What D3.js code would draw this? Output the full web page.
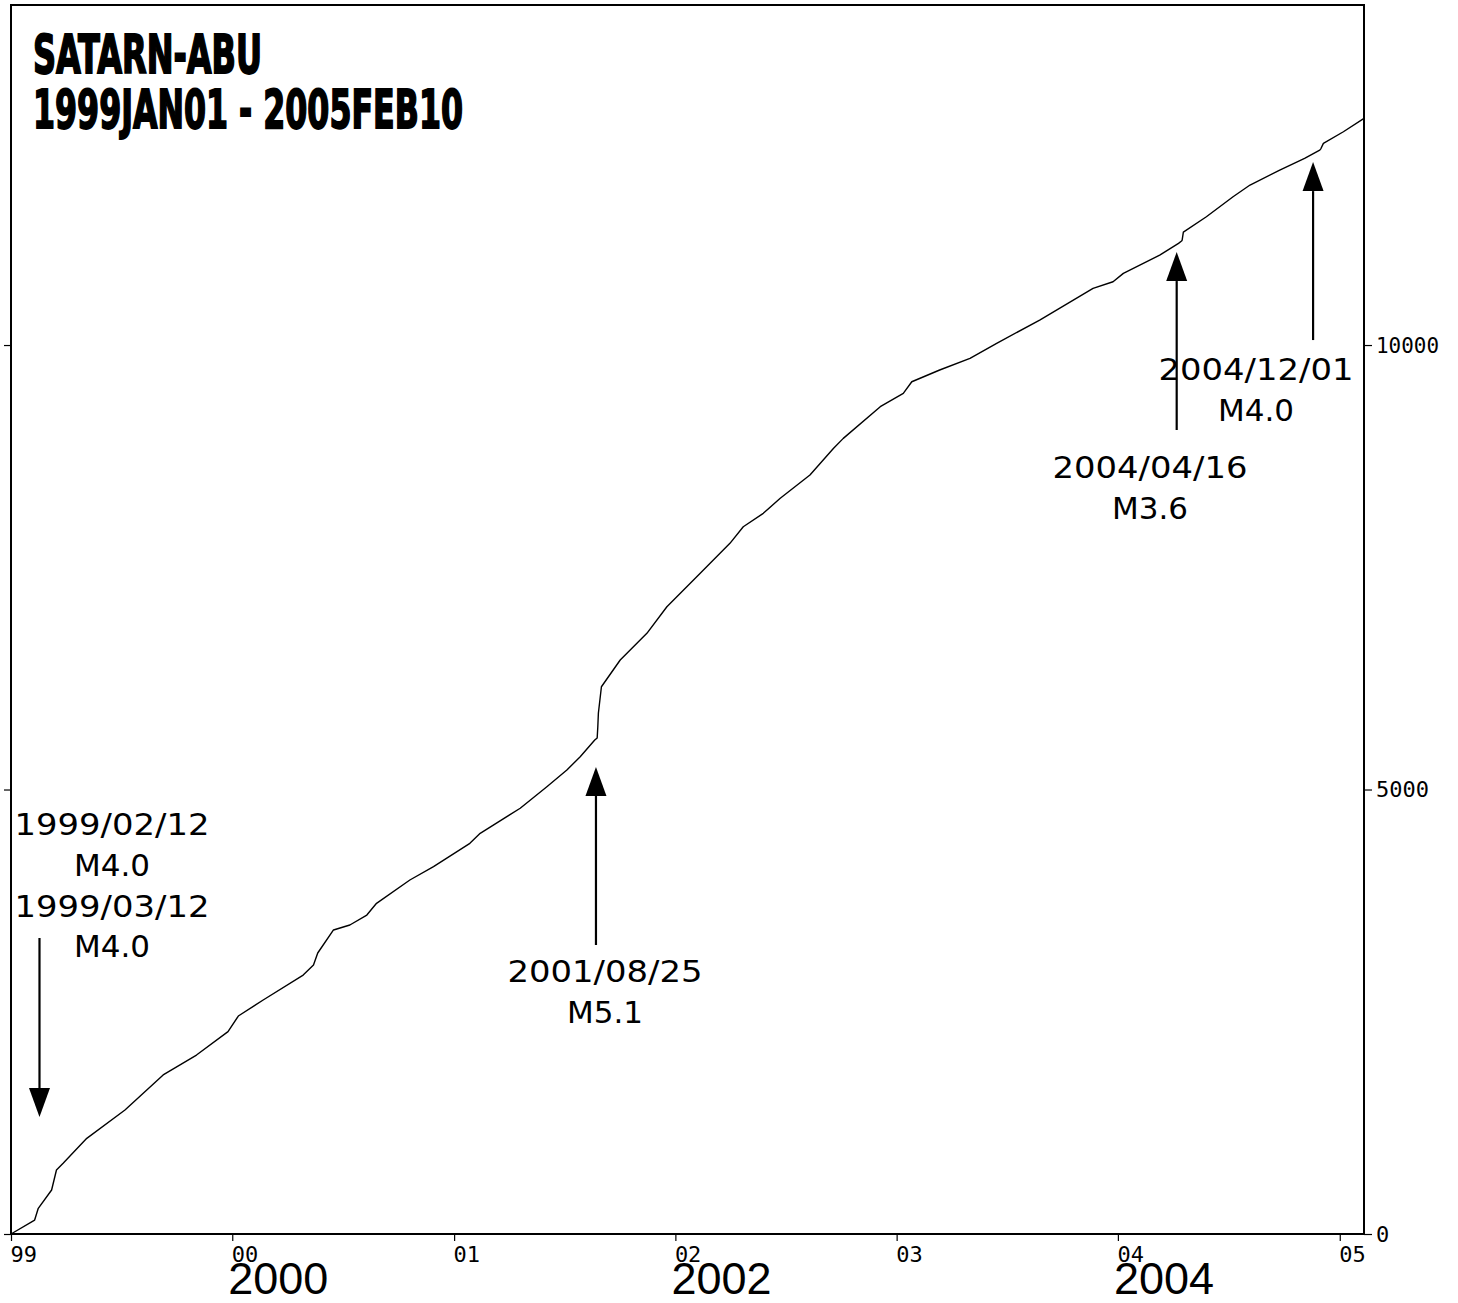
<!DOCTYPE html>
<html><head><meta charset="utf-8">
<script src="https://cdn.jsdelivr.net/npm/d3@7"></script>
<style>
html,body{margin:0;padding:0;background:#fff;}
svg{display:block;}
</style></head>
<body>
<svg id="chart" width="1458" height="1303"></svg>
<script>
// ---- data ----
const titleLines = ["SATARN-ABU", "1999JAN01 - 2005FEB10"];
const dates = ["1999-01-01","1999-02-09","1999-02-15","1999-03-09","1999-03-17","1999-03-28","1999-05-06","1999-07-08","1999-09-09","1999-11-03","1999-12-25",
 "2000-01-11","2000-02-21","2000-04-27","2000-05-14","2000-05-21","2000-06-16","2000-07-13","2000-08-10","2000-08-26","2000-10-20","2000-11-28",
 "2001-01-27","2001-02-13","2001-04-20","2001-06-03","2001-07-06","2001-07-28","2001-08-21","2001-08-25","2001-08-26","2001-08-27","2001-09-01","2001-10-02","2001-11-15","2001-12-18",
 "2002-02-11","2002-04-01","2002-04-23","2002-05-26","2002-06-23","2002-08-11","2002-09-19","2002-10-05","2002-12-05",
 "2003-01-12","2003-01-26","2003-03-13","2003-05-02","2003-06-15","2003-08-25","2003-11-21","2003-12-24",
 "2004-01-10","2004-03-10","2004-04-10","2004-04-15","2004-04-16","2004-04-18","2004-05-26","2004-07-09","2004-08-06","2004-09-24","2004-11-04","2004-11-29","2004-12-01","2004-12-05",
 "2005-01-07","2005-02-10"];
const counts = [0,157,289,495,720,795,1076,1395,1789,2013,2276,
 2452,2632,2913,3026,3161,3420,3476,3588,3720,3982,4132,
 4395,4507,4789,5031,5219,5369,5557,5580,5700,5861,6156,6457,6757,7056,
 7432,7769,7956,8107,8276,8538,8838,8950,9306,
 9457,9587,9719,9850,10019,10281,10638,10712,
 10806,11012,11144,11170,11180,11270,11443,11668,11800,11968,12100,12193,12210,12268,
 12399,12550];
const xTickLabels = ["99","00","01","02","03","04","05"];
const yTickValues = [0, 5000, 10000];
const yearLabels = ["2000","2002","2004"];
// annotations: event labels, arrow anchor date, tail/tip counts
const annLabels = [["1999/02/12","M4.0","1999/03/12","M4.0"],["2001/08/25","M5.1"],["2004/04/16","M3.6"],["2004/12/01","M4.0"]];
const arrowDates = ["1999-02-17","2001-08-23","2004-04-07","2004-11-18"];
const arrowTail = [3330, 3251, 9044, 10056];
const arrowTip  = [1316, 5253, 11046, 12058];

// ---- layout ----
const svg = d3.select("#chart");
const L = 11, R = 1364, T = 5, B = 1234;
const parse = d3.timeParse("%Y-%m-%d");
const x = d3.scaleTime().domain([parse("1999-01-01"), parse("2005-02-10")]).range([L, R]);
const y = d3.scaleLinear().domain([0, 13825]).range([B, T]);

// curve
const pts = dates.map((d,i)=>({d:parse(d), v:counts[i]}));
svg.append("path").datum(pts)
  .attr("fill","none").attr("stroke","#000").attr("stroke-width",1.4).attr("stroke-linejoin","round")
  .attr("d", d3.line().x(p=>x(p.d)).y(p=>y(p.v)));

// frame
svg.append("rect").attr("x",L).attr("y",T).attr("width",R-L).attr("height",B-T)
  .attr("fill","none").attr("stroke","#000").attr("stroke-width",2);

const tickFont = "'DejaVu Sans Mono', monospace";
// bottom axis
const xTicks = xTickLabels.map((s,i)=>new Date(1999+i,0,1));
const xAxis = d3.axisBottom(x).tickValues(xTicks).tickSize(7).tickPadding(5)
  .tickFormat((d,i)=>xTickLabels[i]);
const gx = svg.append("g").attr("transform",`translate(0,${B})`).call(xAxis);
gx.select(".domain").remove();
gx.selectAll("line").attr("stroke","#000").attr("stroke-width",1.2);
gx.selectAll("text").attr("text-anchor","start").attr("dx","-1")
  .style("font-family",tickFont).style("font-size","22px").attr("fill","#000");

// right axis
const yAxisR = d3.axisRight(y).tickValues(yTickValues).tickSize(8).tickPadding(4).tickFormat(d3.format("d"));
const gr = svg.append("g").attr("transform",`translate(${R},0)`).call(yAxisR);
gr.select(".domain").remove();
gr.selectAll("line").attr("stroke","#000").attr("stroke-width",1.2);
gr.selectAll("text").style("font-family",tickFont).style("font-size","22px").attr("fill","#000");
gr.selectAll("text").filter(d=>d===10000).attr("textLength",63).attr("lengthAdjust","spacingAndGlyphs");

// left ticks (no labels)
const yAxisL = d3.axisLeft(y).tickValues(yTickValues).tickSize(7).tickFormat("");
const gl = svg.append("g").attr("transform",`translate(${L},0)`).call(yAxisL);
gl.select(".domain").remove();
gl.selectAll("line").attr("stroke","#000").attr("stroke-width",1.2);

// year labels
svg.selectAll("text.year").data(yearLabels).join("text").attr("class","year")
  .attr("x", d=>x(new Date(+d,0,1)) - 4).attr("y", 1294)
  .style("font-family","'Liberation Sans', Arial, sans-serif").style("font-size","45px").attr("fill","#000")
  .text(d=>d);

// title
const titleY = [73, 128], titleW = [229, 430];
titleLines.forEach((t,i)=>{
  svg.append("text").attr("x",33).attr("y",titleY[i])
    .attr("textLength",titleW[i]).attr("lengthAdjust","spacingAndGlyphs")
    .style("font-family","'Liberation Sans Narrow','DejaVu Sans Condensed','Liberation Sans',sans-serif")
    .style("font-size","53px").style("font-weight","bold")
    .attr("fill","#000").attr("stroke","#000").attr("stroke-width",1.8)
    .text(t);
});

// arrows
arrowDates.forEach((ds,i)=>{
  const ax = x(parse(ds)), y0 = y(arrowTail[i]), y1 = y(arrowTip[i]);
  const dir = y1 > y0 ? 1 : -1, headLen = 29, headW = 10.5;
  svg.append("line").attr("x1",ax).attr("x2",ax).attr("y1",y0).attr("y2",y1 - dir*headLen)
    .attr("stroke","#000").attr("stroke-width",2.2);
  svg.append("path").attr("fill","#000")
    .attr("d",`M${ax},${y1} L${ax-headW},${y1-dir*headLen} L${ax+headW},${y1-dir*headLen} Z`);
});

// annotation labels
const annCX = [112, 605, 1150, 1256];
const annY0 = [835, 982, 478, 380];
annLabels.forEach((lines,i)=>{
  lines.forEach((s,j)=>{
    const t = svg.append("text").attr("x",annCX[i]).attr("y",annY0[i] + j*40.8)
      .attr("text-anchor","middle")
      .style("font-family","'DejaVu Sans', sans-serif").style("font-size","31px").attr("fill","#000")
      .text(s);
    if (s.includes("/")) t.attr("textLength",195).attr("lengthAdjust","spacingAndGlyphs");
  });
});
</script>
</body></html>
